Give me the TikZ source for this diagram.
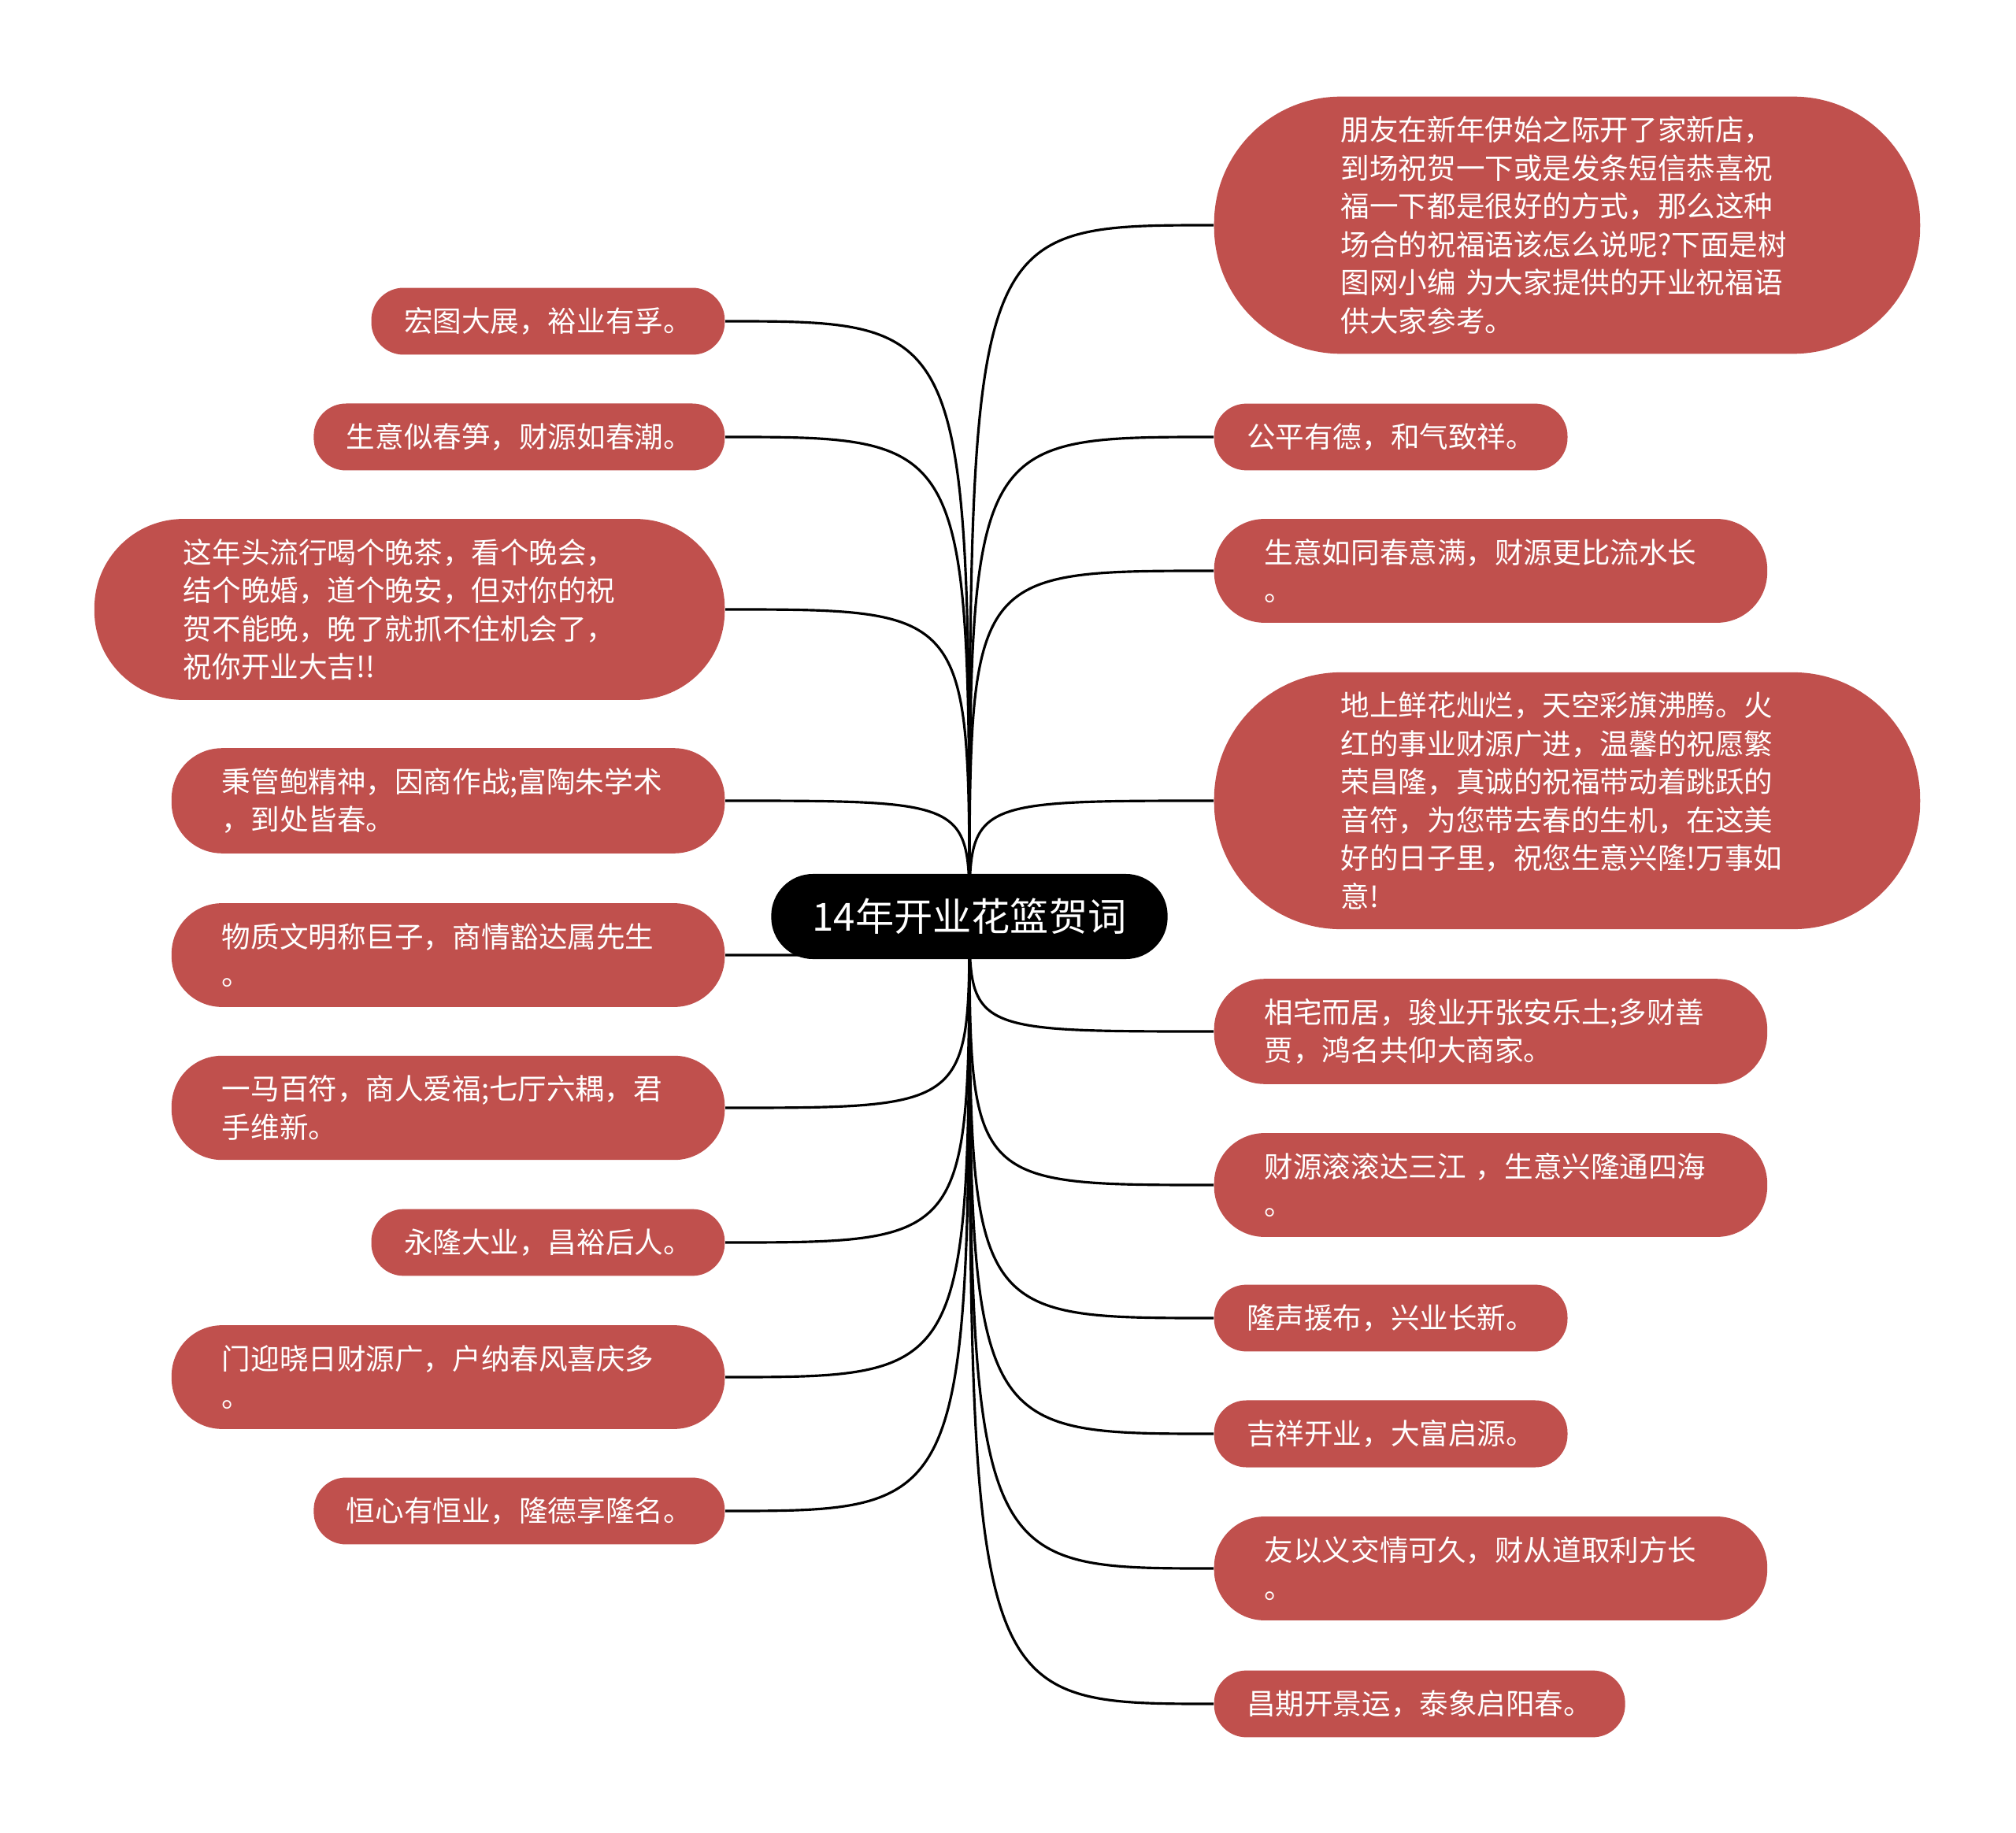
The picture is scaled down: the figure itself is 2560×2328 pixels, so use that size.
\documentclass[tikz,border=0pt]{standalone}
\usepackage{fontspec}
\setmainfont{Noto Sans CJK SC}
\usetikzlibrary{backgrounds}
\definecolor{leafred}{RGB}{192,80,77}
\tikzset{
  leaf/.style={rectangle, rounded corners=0.41cm, fill=leafred, text=white, inner xsep=0.415cm,
    inner ysep=0.25cm, minimum height=0.83cm, font=\fontsize{10.4pt}{13.8pt}\selectfont},
  wideleaf/.style={leaf, text width=5.74cm, align=left, inner xsep=#1, rounded corners=#1},
  topic/.style={rectangle, rounded corners=0.53cm, fill=black, text=white, inner xsep=0.52cm,
    minimum height=1.08cm, font=\fontsize{14pt}{17pt}\selectfont},
  branch/.style={draw=black, line width=0.9pt}
}
\begin{document}
\begin{tikzpicture}[x=0.01cm,y=-0.01cm]
\useasboundingbox (0,0) rectangle (2560,2328);
\node[topic] (root) at (1231,1164) {14年开业花篮贺词};
% left side
\node[leaf, anchor=east] (L1) at (921,408) {宏图大展，裕业有孚。};
\node[leaf, anchor=east] (L2) at (921,555) {生意似春笋，财源如春潮。};
\node[wideleaf=1.13cm, anchor=east] (L3) at (921,774) {这年头流行喝个晚茶，看个晚会，\\结个晚婚，道个晚安，但对你的祝\\贺不能晚，晚了就抓不住机会了，\\祝你开业大吉!!};
\node[wideleaf=0.64cm, anchor=east] (L4) at (921,1017) {秉管鲍精神，因商作战;富陶朱学术\\，到处皆春。};
\node[wideleaf=0.64cm, anchor=east] (L5) at (921,1213) {物质文明称巨子，商情豁达属先生\\。};
\node[wideleaf=0.64cm, anchor=east] (L6) at (921,1407) {一马百符，商人爱福;七厅六耦，君\\手维新。};
\node[leaf, anchor=east] (L7) at (921,1578) {永隆大业，昌裕后人。};
\node[wideleaf=0.64cm, anchor=east] (L8) at (921,1749) {门迎晓日财源广，户纳春风喜庆多\\。};
\node[leaf, anchor=east] (L9) at (921,1919) {恒心有恒业，隆德享隆名。};
% right side
\node[wideleaf=1.61cm, anchor=west] (R1) at (1541,286) {朋友在新年伊始之际开了家新店，\\到场祝贺一下或是发条短信恭喜祝\\福一下都是很好的方式，那么这种\\场合的祝福语该怎么说呢?下面是树\\图网小编 为大家提供的开业祝福语\\供大家参考。};
\node[leaf, anchor=west] (R2) at (1541,555) {公平有德，和气致祥。};
\node[wideleaf=0.64cm, anchor=west] (R3) at (1541,725) {生意如同春意满，财源更比流水长\\。};
\node[wideleaf=1.61cm, anchor=west] (R4) at (1541,1017) {地上鲜花灿烂，天空彩旗沸腾。火\\红的事业财源广进，温馨的祝愿繁\\荣昌隆，真诚的祝福带动着跳跃的\\音符，为您带去春的生机，在这美\\好的日子里，祝您生意兴隆!万事如\\意!};
\node[wideleaf=0.64cm, anchor=west] (R5) at (1541,1310) {相宅而居，骏业开张安乐土;多财善\\贾，鸿名共仰大商家。};
\node[wideleaf=0.64cm, anchor=west] (R6) at (1541,1505) {财源滚滚达三江 ，生意兴隆通四海\\。};
\node[leaf, anchor=west] (R7) at (1541,1674) {隆声援布，兴业长新。};
\node[leaf, anchor=west] (R8) at (1541,1821) {吉祥开业，大富启源。};
\node[wideleaf=0.64cm, anchor=west] (R9) at (1541,1992) {友以义交情可久，财从道取利方长\\。};
\node[leaf, anchor=west] (R10) at (1541,2164) {昌期开景运，泰象启阳春。};
\begin{scope}[on background layer]
\foreach \i in {1,...,9}
  \draw[branch] (root.center) .. controls (root.center |- L\i.east) .. (L\i.east);
\foreach \i in {1,...,10}
  \draw[branch] (root.center) .. controls (root.center |- R\i.west) .. (R\i.west);
\end{scope}
\end{tikzpicture}
\end{document}
